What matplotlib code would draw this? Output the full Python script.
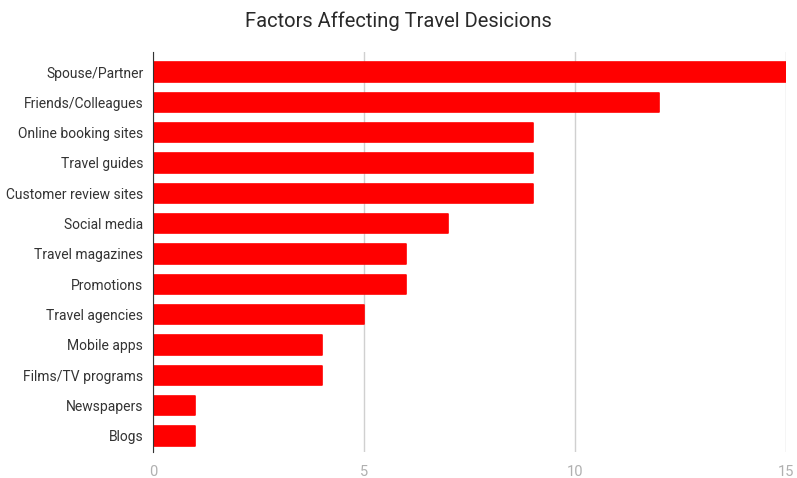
import matplotlib.pyplot as plt

# data
factors = ["Spouse/Partner", "Friends/Colleagues", "Online booking sites",
           "Travel guides", "Customer review sites", "Social media",
           "Travel magazines", "Promotions", "Travel agencies",
           "Mobile apps", "Films/TV programs", "Newspapers", "Blogs"]
counts = [15, 12, 9, 9, 9, 7, 6, 6, 5, 4, 4, 1, 1]
xticks = [0, 5, 10, 15]

# no condensed face installed, so Roboto at a smaller size
plt.rcParams['font.family'] = ['Roboto', 'DejaVu Sans']

fig = plt.figure(figsize=(7.97, 4.78), dpi=100)
ax = fig.add_axes([153/797, 1 - 452/478, (786 - 153)/797, (452 - 52)/478])

pos = list(range(len(factors)))
ax.barh(pos, counts, height=0.64, color="#ff0000", edgecolor="#ff0000",
        linewidth=1.2, joinstyle="round", zorder=3)

ax.set_xlim(0, 15)
ax.set_ylim(len(factors) - 0.47, -0.66)
ax.set_yticks(pos)
ax.set_yticklabels(factors, fontsize=10, color="#333333")
ax.set_xticks(xticks)
ax.set_xticklabels([str(t) for t in xticks], fontsize=10.5, color="#b0b0b0")
ax.tick_params(axis="both", length=0)
ax.tick_params(axis="x", pad=9)
ax.tick_params(axis="y", pad=7)
ax.grid(axis="x", color="#d0d0d0", linewidth=1, zorder=0)

for s in ["top", "right", "bottom"]:
    ax.spines[s].set_visible(False)
ax.spines["left"].set_color("#333333")
ax.spines["left"].set_zorder(4)

fig.text(398/797, 1 - 21/478, "Factors Affecting Travel Desicions",
         ha="center", va="center", fontsize=14.5, color="#2a2a2a")

fig.savefig("out.png", dpi=100)
